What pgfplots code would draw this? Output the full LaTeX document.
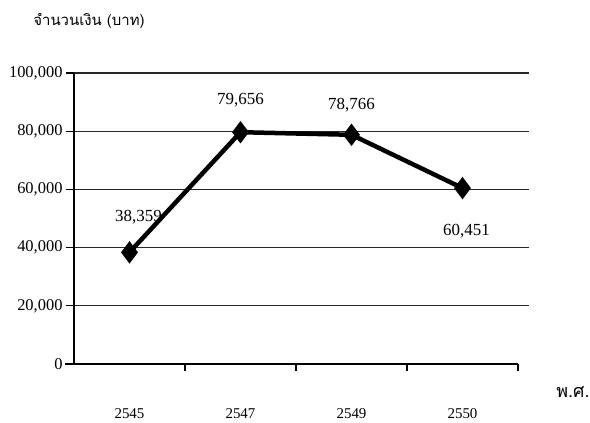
\documentclass[border=0pt]{standalone}
\usepackage{pgfplots}
\pgfplotsset{compat=1.18}
\usepackage{fontspec}
\setmainfont{Liberation Serif}
\newfontfamily\thaifont[Script=Thai]{Loma}
\begin{document}
\begin{tikzpicture}
\path[use as bounding box] (-74bp,-59bp) rectangle (516bp,364bp);
\begin{axis}[
  at={(0,0)}, anchor=south west,
  scale only axis, width=444bp, height=291bp,
  xmin=-0.5, xmax=3.5, ymin=0, ymax=100000,
  axis x line=bottom, axis y line=left,
  axis line style={-, line width=1.3bp, black},
  xtick={0,1,2,3},
  xticklabels={2545,2547,2549,2550},
  minor xtick={0.5,1.5,2.5,3.5},
  major x tick style={draw=none},
  minor x tick style={line width=1.1bp, black},
  minor tick length=7bp,
  ytick={0,20000,40000,60000,80000,100000},
  scaled y ticks=false,
  yticklabel style={/pgf/number format/fixed, /pgf/number format/1000 sep={,}, /pgf/number format/assume math mode=true, font=\fontsize{16.5}{18}\selectfont},
  major y tick style={line width=1.1bp, black},
  major tick length=8bp,
  tick align=outside,
  ymajorgrids,
  grid style={line width=1.1bp, black!85},
  xticklabel style={yshift=-33bp, font=\fontsize{15}{18}\selectfont},
  clip=false,
  nodes near coords={\pgfmathprintnumber[fixed,1000 sep={,},assume math mode=true]{\pgfplotspointmeta}},
  every node near coord/.append style={font=\fontsize{17}{20}\selectfont, anchor=center, xshift=\dx bp, yshift=\dy bp},
]
\draw[line width=1.3bp] (axis cs:-0.58,0) -- (axis cs:-0.5,0);
\pgfplotsinvokeforeach{20000,40000,60000,80000,100000}{
  \draw[line width=1.1bp, black!85] (axis cs:3.5,#1) -- (axis cs:3.6,#1);
}
\addplot[black, line width=4.5bp, mark=diamond*, mark size=7.5bp, mark options={solid, fill=black},
  point meta=y,
  visualization depends on={\thisrow{dx} \as \dx},
  visualization depends on={\thisrow{dy} \as \dy},
] table {
x y dx dy
0 38359 9 35
1 79656 0 32
2 78766 0 30
3 60451 4 -43
};
\end{axis}
\node[font=\thaifont\fontsize{15}{18}\selectfont] at (15bp,343bp) {จำนวนเงิน (บาท)};
\node[font=\thaifont\fontsize{18}{20}\selectfont] at (499bp,-28bp) {พ.ศ.};
\end{tikzpicture}
\end{document}
